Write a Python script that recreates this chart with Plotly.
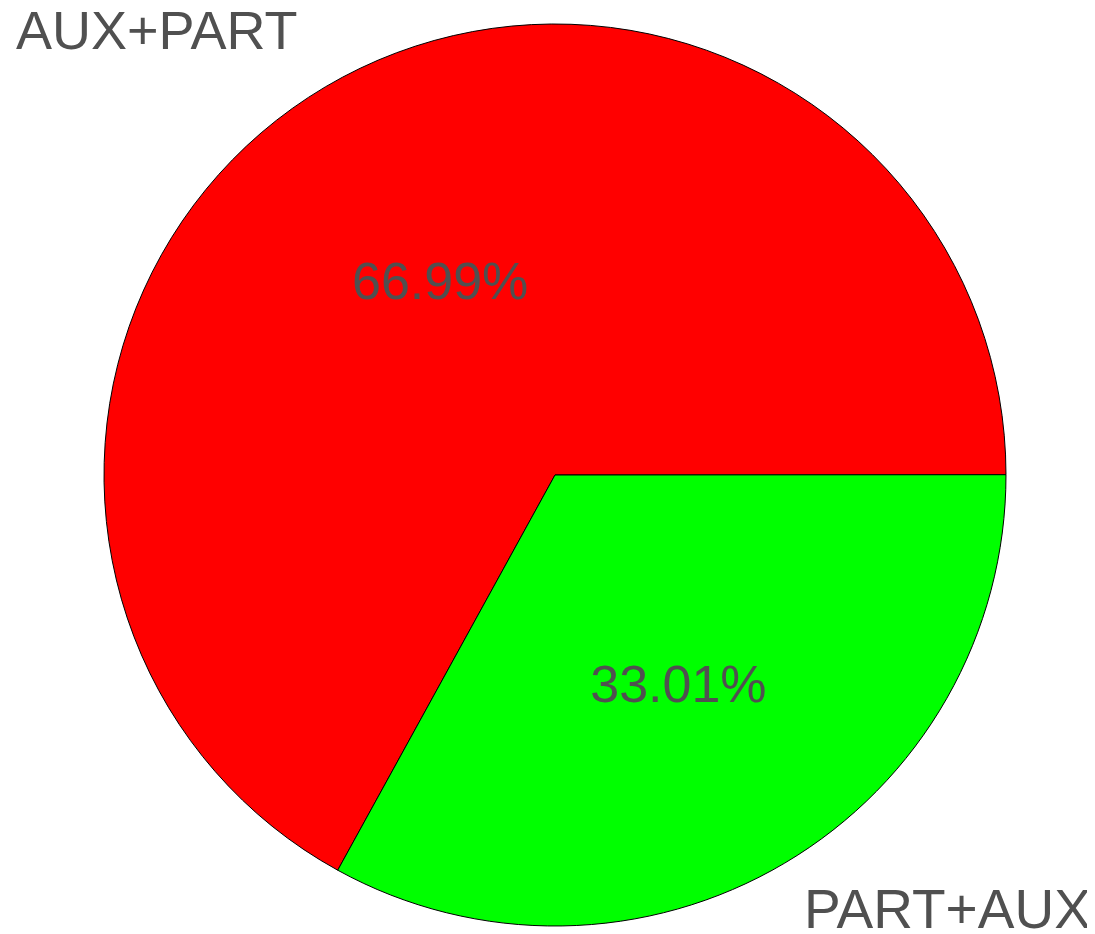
import plotly.graph_objects as go

labels = ["AUX+PART", "PART+AUX"]
values = [66.99, 33.01]
colors = ["#ff0000", "#00ff00"]

FONT = "Liberation Sans, Arial, sans-serif"
GREY = "#505050"

L, R, T, B = 96, 97, 15, 15
W, H = 1095, 934
PW, PH = W - L - R, H - T - B

fig = go.Figure()
fig.add_trace(go.Pie(
    labels=labels,
    values=values,
    sort=False,
    direction="clockwise",
    rotation=208.8,
    marker=dict(colors=colors, line=dict(color="#000000", width=1)),
    texttemplate="%{percent:.2%}",
    textposition="inside",
    insidetextorientation="horizontal",
    textfont=dict(family=FONT, size=52, color=GREY),
    showlegend=False,
    hoverinfo="label+percent",
))

fig.add_annotation(text=labels[0], x=(7 - L) / PW, y=1 + 24 / PH,
                   xref="paper", yref="paper", borderpad=0,
                   xanchor="left", yanchor="top", showarrow=False,
                   font=dict(family=FONT, size=54, color=GREY))
fig.add_annotation(text=labels[1], x=(1084 - L) / PW, y=-14 / PH,
                   xref="paper", yref="paper", borderpad=0,
                   xanchor="right", yanchor="bottom", showarrow=False,
                   font=dict(family=FONT, size=55, color=GREY))

fig.update_layout(
    width=W, height=H,
    margin=dict(l=L, r=R, t=T, b=B),
    paper_bgcolor="white",
    plot_bgcolor="white",
)

fig.write_html("out.html")
